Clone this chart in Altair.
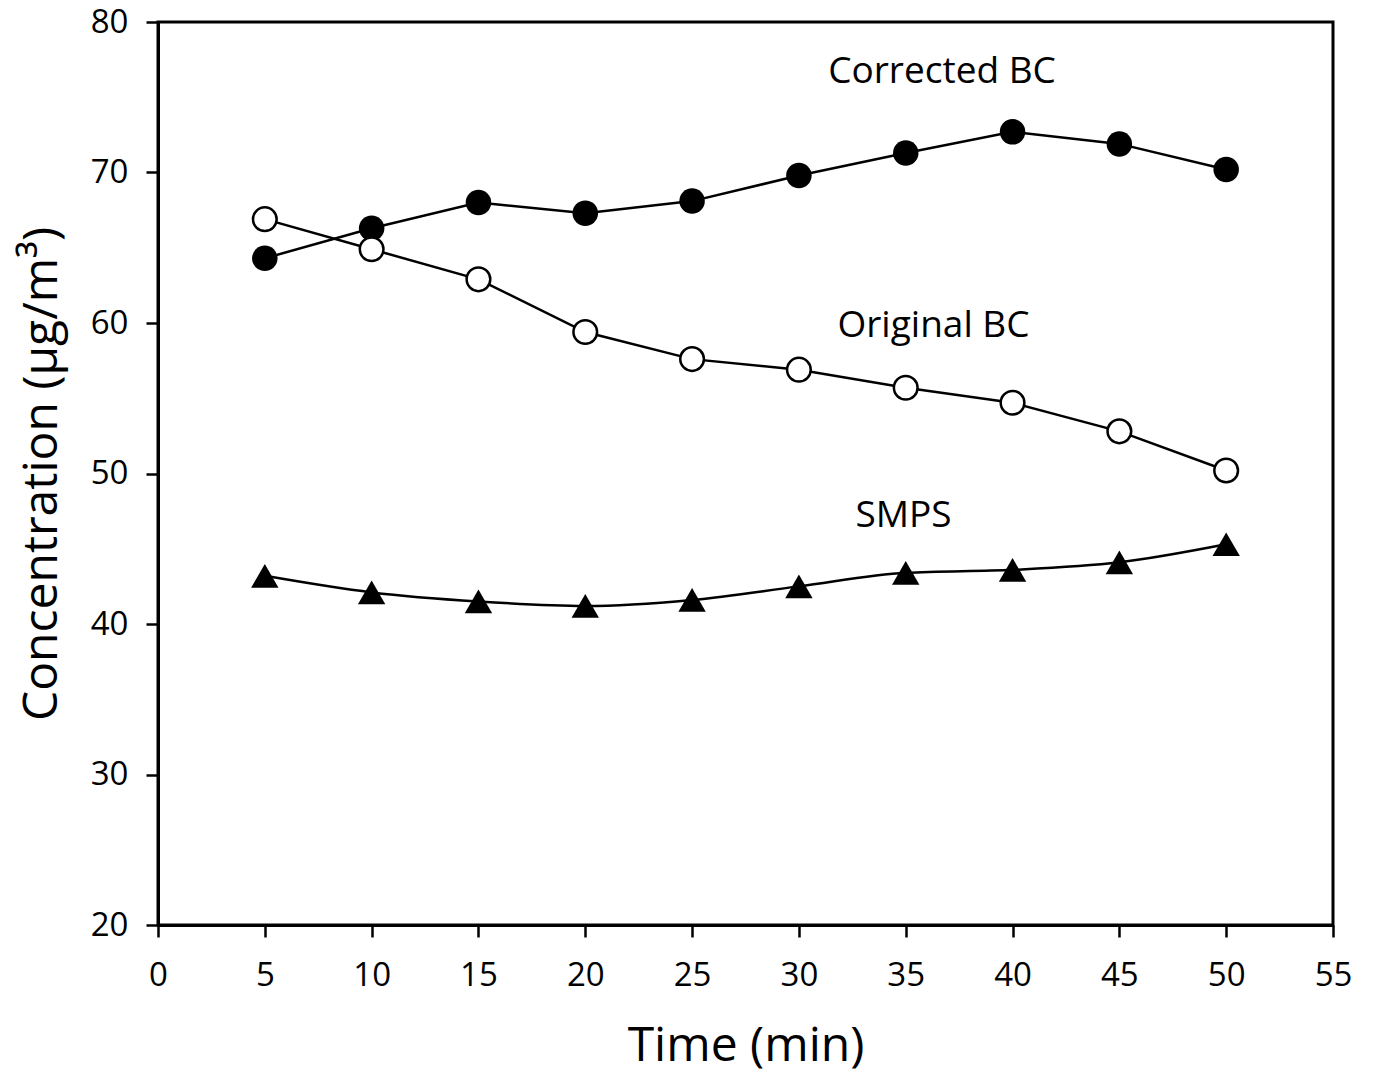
import altair as alt
import pandas as pd

time = [5, 10, 15, 20, 25, 30, 35, 40, 45, 50]
corrected_bc = [64.3, 66.3, 68.0, 67.3, 68.1, 69.8, 71.3, 72.7, 71.9, 70.2]
original_bc = [66.9, 64.9, 62.9, 59.4, 57.6, 56.9, 55.7, 54.7, 52.8, 50.2]
smps = [43.2, 42.1, 41.5, 41.2, 41.6, 42.5, 43.4, 43.6, 44.1, 45.3]

label_text = ["Corrected BC", "Original BC", "SMPS"]
label_x = [36.7, 36.3, 34.9]
label_y = [76.7, 59.8, 47.2]

FONT = "Open Sans"

df_c = pd.DataFrame({"t": time, "v": corrected_bc})
df_o = pd.DataFrame({"t": time, "v": original_bc})
df_s = pd.DataFrame({"t": time, "v": smps})
df_l = pd.DataFrame({"x": label_x, "y": label_y, "text": label_text})

xs = alt.Scale(domain=[0, 55], nice=False, zero=False)
ys = alt.Scale(domain=[20, 80], nice=False, zero=False)

xax = alt.Axis(values=list(range(0, 56, 5)), title="Time (min)", grid=False,
               labelFontSize=33, titleFontSize=48, labelFont=FONT, titleFont=FONT,
               labelColor="black", titleColor="black", domainColor="black",
               domainWidth=3, tickColor="black", tickWidth=2.5, tickSize=12,
               labelPadding=22, titlePadding=30, titleFontWeight="normal",
               labelFlush=False)
yax = alt.Axis(values=list(range(20, 81, 10)), title="Concentration (µg/m³)", grid=False,
               labelFontSize=33, titleFontSize=48, labelFont=FONT, titleFont=FONT,
               labelColor="black", titleColor="black", domainColor="black",
               domainWidth=3, tickColor="black", tickWidth=2.5, tickSize=12,
               labelPadding=18, titlePadding=24, titleFontWeight="normal",
               labelFlush=False)

X = alt.X("t:Q", scale=xs, axis=xax)
Y = alt.Y("v:Q", scale=ys, axis=yax)

line_c = alt.Chart(df_c).mark_line(color="black", strokeWidth=2.5).encode(x=X, y=Y)
pts_c = alt.Chart(df_c).mark_point(shape="circle", filled=True, color="black",
                                   size=650, opacity=1).encode(x=X, y=Y)

line_o = alt.Chart(df_o).mark_line(color="black", strokeWidth=2.5).encode(x=X, y=Y)
pts_o = alt.Chart(df_o).mark_point(shape="circle", filled=True, fill="white",
                                   stroke="black", strokeWidth=2.5, size=560,
                                   opacity=1).encode(x=X, y=Y)

line_s = alt.Chart(df_s).mark_line(color="black", strokeWidth=2.5,
                                   interpolate="monotone").encode(x=X, y=Y)
pts_s = alt.Chart(df_s).mark_point(shape="triangle-up", filled=True, color="black",
                                   size=750, opacity=1).encode(x=X, y=Y)

labels = alt.Chart(df_l).mark_text(font=FONT, fontSize=37, color="black").encode(
    x=alt.X("x:Q", scale=xs), y=alt.Y("y:Q", scale=ys), text="text:N")

chart = alt.layer(line_c, line_o, line_s, pts_c, pts_o, pts_s, labels).properties(
    width=1175, height=903,
    autosize=alt.AutoSizeParams(type="none"),
    padding={"left": 150, "top": 14, "right": 30, "bottom": 152},
    background="white",
).configure_view(stroke="black", strokeWidth=3)

chart.save("out.html", embed_options={"renderer": "svg", "actions": False})
